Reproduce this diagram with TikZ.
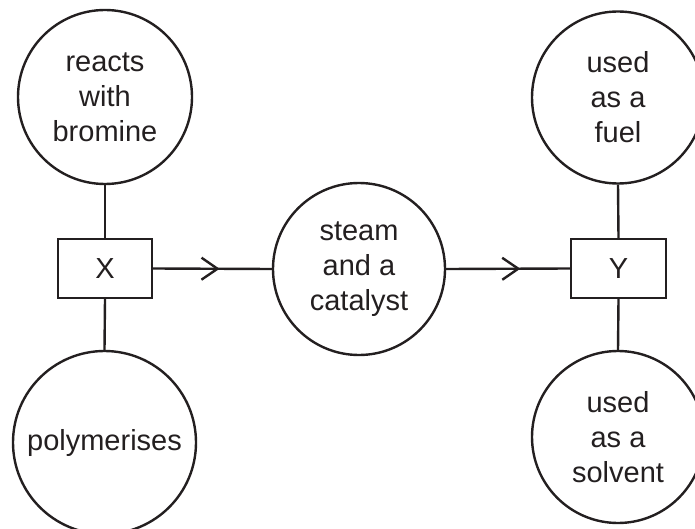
\documentclass[tikz,border=0pt]{standalone}
\usepackage{fontspec}
\setmainfont{Liberation Sans}
\usetikzlibrary{arrows.meta,decorations.markings}
\definecolor{ink}{HTML}{231F20}
\tikzset{
  bubble/.style={draw=ink, circle, line width=2.4pt, inner sep=0pt, align=center,
    font=\fontsize{29}{35}\selectfont, text=ink},
  letterbox/.style={draw=ink, rectangle, line width=2.4pt, minimum width=94pt,
    minimum height=59pt, inner sep=0pt, font=\fontsize{29}{35}\selectfont, text=ink},
  link/.style={draw=ink, line width=2.4pt},
  flow/.style={draw=ink, line width=2.4pt, postaction={decorate},
    decoration={markings, mark=at position #1 with {\arrow{Straight Barb[length=16pt,width=22pt,line width=2.4pt]}}}}
}
\begin{document}
\begin{tikzpicture}[x=1pt,y=-1pt]
\useasboundingbox (0,0) rectangle (695,529);
\node[bubble, minimum size=174pt] (c1) at (105,97) {reacts\\with\\bromine};
\node[letterbox] (X) at (105,268.5) {X};
\node[bubble, minimum size=183pt] (c2) at (104.5,442.5) {polymerises};
\node[bubble, minimum size=172pt] (m) at (359,269) {steam\\and a\\catalyst};
\node[letterbox, minimum width=95pt] (Y) at (618.5,268.5) {Y};
\node[bubble, minimum size=172pt] (c3) at (618,97.5) {used\\as a\\fuel};
\node[bubble, minimum size=172pt] (c4) at (618,437) {used\\as a\\solvent};
\draw[link] (c1.south) -- (X.north);
\draw[link] (X.south) -- (c2.north);
\draw[link] (c3.south) -- (Y.north);
\draw[link] (Y.south) -- (c4.north);
\draw[flow=0.56] (X.east) -- (m.west);
\draw[flow=0.6] (m.east) -- (Y.west);
\end{tikzpicture}
\end{document}
